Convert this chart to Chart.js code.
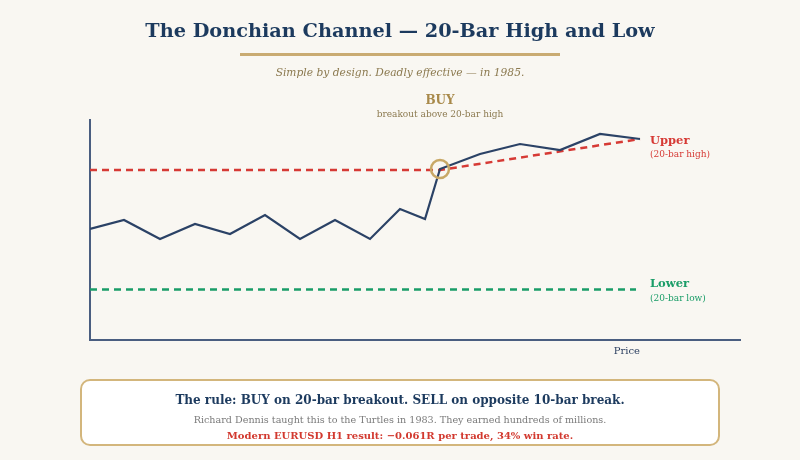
<!DOCTYPE html>
<html>
<head>
<meta charset="utf-8">
<script src="https://cdn.jsdelivr.net/npm/chart.js@4"></script>
<style>
  html,body{margin:0;padding:0;background:#f9f7f2;width:800px;height:460px;overflow:hidden;font-family:"DejaVu Serif",Georgia,serif}
  #wrap{position:relative;width:800px;height:460px}
  #chart{position:absolute;left:0;top:0}
  .title{position:absolute;top:19px;left:0;width:800px;text-align:center;font-size:19.3px;font-weight:700;color:#1c3a5e}
  .rule{position:absolute;top:53px;left:240px;width:320px;height:2.5px;background:#c9ab72}
  .sub{position:absolute;top:66px;left:0;width:800px;text-align:center;font-size:10.7px;font-style:italic;color:#8c7a50}
  .box{position:absolute;left:80px;top:379px;width:636px;height:63px;border:2px solid #d3b67c;border-radius:10px;background:#fff;text-align:center}
  .l1{position:absolute;left:0;width:100%;top:12px;font-size:12px;font-weight:700;color:#1c3a5e}
  .l2{position:absolute;left:0;width:100%;top:33px;font-size:9.6px;color:#7a7a7a}
  .l3{position:absolute;left:0;width:100%;top:49px;font-size:10px;font-weight:700;color:#d2392f}
</style>
</head>
<body>
<div id="wrap">
  <canvas id="chart" width="800" height="460"></canvas>
  <div class="title">The Donchian Channel — 20-Bar High and Low</div>
  <div class="rule"></div>
  <div class="sub">Simple by design. Deadly effective — in 1985.</div>
  <div class="box">
    <div class="l1">The rule: BUY on 20-bar breakout. SELL on opposite 10-bar break.</div>
    <div class="l2">Richard Dennis taught this to the Turtles in 1983. They earned hundreds of millions.</div>
    <div class="l3">Modern EURUSD H1 result: −0.061R per trade, 34% win rate.</div>
  </div>
</div>
<script>
// ── data ──
const timeX=[0,34,70,105,140,175,210,245,280,310,335,350,390,430,470,510,550];
const price=[111,120,101,116,106,125,101,120,101,131,121,171,186,196,190,206,201];
const upperX=[0,350,550];
const upperY=[170,170,201];
const lowerX=[0,546];
const lowerY=[50.5,50.5];
const breakoutX=350, breakoutY=171;

const NAVY='#2b4266', RED='#d63a35', GREEN='#1a9d68', GOLD='#c8a866';
const pts=(xs,ys)=>xs.map((x,i)=>({x,y:ys[i]}));

// labels drawn next to the lines
const labelPlugin={
  id:'labels',
  afterDatasetsDraw(chart){
    const {ctx,scales:{x,y}}=chart;
    ctx.save();
    ctx.textBaseline='middle';
    // Upper
    const ux=x.getPixelForValue(upperX[upperX.length-1])+10;
    const uy=y.getPixelForValue(upperY[upperY.length-1]);
    ctx.fillStyle=RED;ctx.textAlign='left';
    ctx.font='bold 11.5px "DejaVu Serif"';ctx.fillText('Upper',ux,uy+2);
    ctx.font='9px "DejaVu Serif"';ctx.fillText('(20-bar high)',ux,uy+16);
    // Lower
    const lx=x.getPixelForValue(lowerX[lowerX.length-1])+14;
    const ly=y.getPixelForValue(lowerY[0]);
    ctx.fillStyle=GREEN;
    ctx.font='bold 11.5px "DejaVu Serif"';ctx.fillText('Lower',lx,ly-5);
    ctx.font='9px "DejaVu Serif"';ctx.fillText('(20-bar low)',lx,ly+9);
    // BUY
    const bx=x.getPixelForValue(breakoutX);
    const by=y.getPixelForValue(breakoutY);
    ctx.textAlign='center';
    ctx.fillStyle='#a8894a';ctx.font='bold 12px "DejaVu Serif"';ctx.fillText('BUY',bx,by-68);
    ctx.fillStyle='#8c7a50';ctx.font='9px "DejaVu Serif"';ctx.fillText('breakout above 20-bar high',bx,by-54);
    // axis title
    ctx.textAlign='right';ctx.fillStyle='#2b3f60';ctx.font='10px "DejaVu Serif"';
    ctx.fillText('Price',x.getPixelForValue(550),y.bottom+11);
    ctx.restore();
  }
};

new Chart(document.getElementById('chart'),{
  type:'line',
  data:{datasets:[
    {data:pts(timeX,price),borderColor:NAVY,borderWidth:2.2,pointRadius:0,tension:0,order:1},
    {data:pts(upperX,upperY),borderColor:RED,borderWidth:2.5,borderDash:[7,5],pointRadius:0,tension:0,order:2},
    {data:pts(lowerX,lowerY),borderColor:GREEN,borderWidth:2.5,borderDash:[7,5],pointRadius:0,tension:0,order:2},
    {data:[{x:breakoutX,y:breakoutY}],showLine:false,pointRadius:9,pointBorderWidth:2.5,pointBorderColor:GOLD,pointBackgroundColor:'rgba(0,0,0,0)',order:0}
  ]},
  options:{
    responsive:false,animation:false,
    layout:{padding:{left:90,right:60,top:120,bottom:120}},
    plugins:{legend:{display:false},tooltip:{enabled:false}},
    scales:{
      x:{type:'linear',min:0,max:650,ticks:{display:false},grid:{display:false},
         border:{display:true,color:'#4a5e80',width:2},afterFit(s){s.height=0}},
      y:{min:0,max:220,ticks:{display:false},grid:{display:false},
         border:{display:true,color:'#4a5e80',width:2},afterFit(s){s.width=0}}
    }
  },
  plugins:[labelPlugin]
});
</script>
</body>
</html>
